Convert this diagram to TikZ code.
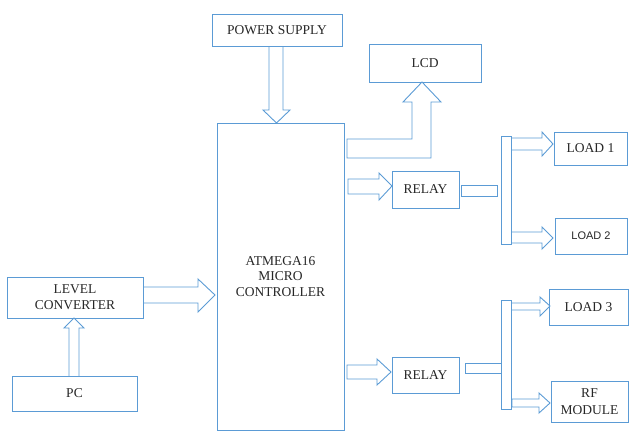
\documentclass[tikz,border=0pt]{standalone}
\usepackage{fontspec}
\setmainfont{Liberation Serif}
\newfontfamily\sansf{Liberation Sans}
\definecolor{bl}{RGB}{91,155,213}
\begin{document}
\begin{tikzpicture}[x=1pt,y=-1pt,
  blk/.style={draw=bl, line width=0.9pt, inner sep=0pt, align=center,
    font=\fontsize{13.5}{15.5}\selectfont, text=black!85},
  arr/.style={draw=bl, line width=0.9pt, line join=miter}]
\useasboundingbox (0,0) rectangle (630,432);
% boxes
\node[blk, minimum width=130pt, minimum height=32pt] (ps) at (277,30) {POWER SUPPLY};
\node[blk, minimum width=127pt, minimum height=307pt] (mcu) at (280.5,276.5) {ATMEGA16\\MICRO\\CONTROLLER};
\node[blk, minimum width=112pt, minimum height=38pt] (lcd) at (425,63) {LCD};
\node[blk, minimum width=67pt, minimum height=37pt] (r1) at (425.5,189.5) {RELAY};
\node[blk, minimum width=67pt, minimum height=36pt] (r2) at (425.5,375) {RELAY};
\node[blk, minimum width=73pt, minimum height=33pt] (l1) at (590.5,148.5) {LOAD 1};
\node[blk, minimum width=72pt, minimum height=36pt, font=\sansf\fontsize{11}{13}\selectfont] (l2) at (591,236) {LOAD 2};
\node[blk, minimum width=79pt, minimum height=36pt] (l3) at (588.5,307) {LOAD 3};
\node[blk, minimum width=77pt, minimum height=41pt, font=\fontsize{13.5}{17}\selectfont] (rf) at (589.5,401.5) {RF\\MODULE};
\node[blk, minimum width=136pt, minimum height=41pt, font=\fontsize{13.5}{16}\selectfont] (lc) at (75,297.5) {LEVEL\\CONVERTER};
\node[blk, minimum width=125pt, minimum height=35pt] (pc) at (74.5,393.5) {PC};
% block arrows
\draw[arr] (269,46)--(269,110)--(263,110)--(276.5,123)--(290,110)--(283,110)--(283,46);
\draw[arr] (347,139)--(412,139)--(412,102)--(403,102)--(422,82)--(441,102)--(431,102)--(431,158)--(347,158)--cycle;
\draw[arr] (348,179)--(379,179)--(379,173)--(392,186)--(379,200)--(379,194)--(348,194)--cycle;
\draw[arr] (461,185) rectangle (497,196);
\draw[arr] (501,136) rectangle (511,244);
\draw[arr] (511,138)--(542,138)--(542,132)--(553,144)--(542,156)--(542,150)--(511,150);
\draw[arr] (511,232)--(542,232)--(542,227)--(553,238)--(542,249)--(542,243)--(511,243);
\draw[arr] (347,365)--(377,365)--(377,359)--(391,372)--(377,385)--(377,379)--(347,379)--cycle;
\draw[arr] (465,363) rectangle (501,373);
\draw[arr] (501,300) rectangle (511,409);
\draw[arr] (511,303)--(540,303)--(540,297)--(550,306)--(540,316)--(540,310)--(511,310);
\draw[arr] (512,399)--(539,399)--(539,393)--(550,403)--(539,413)--(539,407)--(512,407)--cycle;
\draw[arr] (143,287)--(198,287)--(198,279)--(215,295)--(198,312)--(198,303)--(143,303);
\draw[arr] (69,376)--(69,328)--(64,328)--(74,318)--(84,328)--(79,328)--(79,376);
\end{tikzpicture}
\end{document}
